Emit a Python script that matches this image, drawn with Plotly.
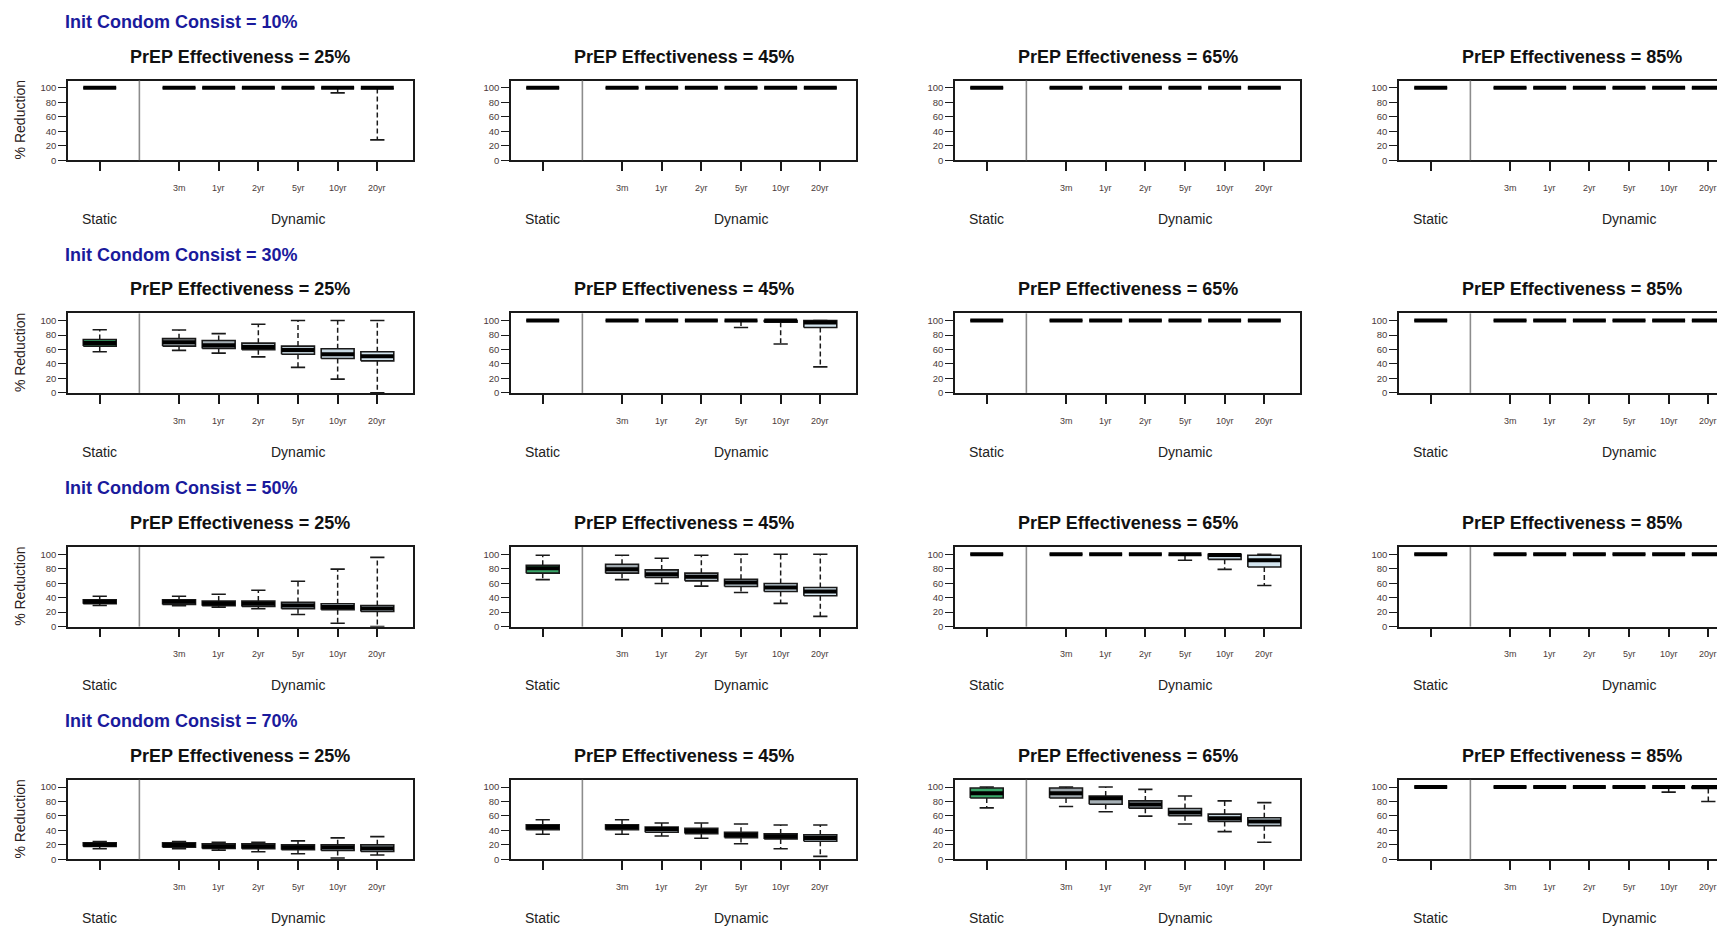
import plotly.graph_objects as go

# ---------------- data ----------------
categories = ["Static", "3m", "1yr", "2yr", "5yr", "10yr", "20yr"]
positions = [1, 3, 4, 5, 6, 7, 8]
dynamic_label_pos = 6
condom_levels = ["10%", "30%", "50%", "70%"]
prep_levels = ["25%", "45%", "65%", "85%"]
y_ticks = [0, 20, 40, 60, 80, 100]

# each box: (lower whisker, q1, median, q3, upper whisker) for Static, 3m, 1yr, 2yr, 5yr, 10yr, 20yr
c10_p25 = [(100, 100, 100, 100, 100), (100, 100, 100, 100, 100), (100, 100, 100, 100, 100),
           (100, 100, 100, 100, 100), (100, 100, 100, 100, 100), (93, 100, 100, 100, 100),
           (28, 99, 100, 100, 100)]
c10_p45 = [(100, 100, 100, 100, 100), (100, 100, 100, 100, 100), (100, 100, 100, 100, 100),
           (100, 100, 100, 100, 100), (100, 100, 100, 100, 100), (100, 100, 100, 100, 100),
           (100, 100, 100, 100, 100)]
c10_p65 = [(100, 100, 100, 100, 100), (100, 100, 100, 100, 100), (100, 100, 100, 100, 100),
           (100, 100, 100, 100, 100), (100, 100, 100, 100, 100), (100, 100, 100, 100, 100),
           (100, 100, 100, 100, 100)]
c10_p85 = [(100, 100, 100, 100, 100), (100, 100, 100, 100, 100), (100, 100, 100, 100, 100),
           (100, 100, 100, 100, 100), (100, 100, 100, 100, 100), (100, 100, 100, 100, 100),
           (100, 100, 100, 100, 100)]

c30_p25 = [(57, 64.7, 69, 73.8, 87.3), (58.8, 64.7, 70, 75, 87), (55, 61.5, 66, 72.4, 82),
           (49.8, 59.7, 63.3, 68.8, 95), (35.3, 53.4, 59.3, 64.7, 100), (19, 47.5, 53.4, 61, 100),
           (0, 44.3, 50.7, 57, 100)]
c30_p45 = [(100, 100, 100, 100, 100), (100, 100, 100, 100, 100), (100, 100, 100, 100, 100),
           (100, 100, 100, 100, 100), (90.4, 99.5, 100, 100, 100), (67.6, 97.7, 100, 100, 100),
           (36, 90.4, 97.3, 100, 100)]
c30_p65 = [(100, 100, 100, 100, 100), (100, 100, 100, 100, 100), (100, 100, 100, 100, 100),
           (100, 100, 100, 100, 100), (100, 100, 100, 100, 100), (100, 100, 100, 100, 100),
           (100, 100, 100, 100, 100)]
c30_p85 = [(100, 100, 100, 100, 100), (100, 100, 100, 100, 100), (100, 100, 100, 100, 100),
           (100, 100, 100, 100, 100), (100, 100, 100, 100, 100), (100, 100, 100, 100, 100),
           (100, 100, 100, 100, 100)]

c50_p25 = [(29.3, 31.6, 34.4, 37.2, 41.9), (28.8, 30.7, 34.4, 37.2, 41.9), (27, 28.8, 32, 35.3, 44.7),
           (24.7, 27.9, 31.6, 35.3, 50.2), (16.7, 24.7, 29.3, 33.5, 62.8), (4.7, 23.3, 27, 31.6, 79.5),
           (0, 20.9, 25, 29.3, 95.8)]
c50_p45 = [(65, 73.9, 80.7, 84.9, 98.6), (65, 73.9, 79.4, 86.2, 98.6), (59.6, 67.9, 72.5, 78.4, 94.5),
           (56, 63.3, 68.8, 73.9, 98.6), (47.2, 55.5, 61, 65.6, 100), (32.1, 48.6, 54.1, 59.6, 100),
           (14.2, 42.7, 48.6, 54.1, 100)]
c50_p65 = [(100, 100, 100, 100, 100), (100, 100, 100, 100, 100), (100, 100, 100, 100, 100),
           (100, 100, 100, 100, 100), (91.7, 99, 100, 100, 100), (79.2, 93, 99, 100, 100),
           (56.9, 82.4, 91.7, 98.6, 100)]
c50_p85 = [(100, 100, 100, 100, 100), (100, 100, 100, 100, 100), (100, 100, 100, 100, 100),
           (100, 100, 100, 100, 100), (100, 100, 100, 100, 100), (100, 100, 100, 100, 100),
           (100, 100, 100, 100, 100)]

c70_p25 = [(14.6, 17.8, 20.1, 22.8, 24.7), (14.6, 16.8, 20, 22.8, 24.7), (12.8, 15.1, 18.3, 21.5, 23.7),
           (10.5, 14.6, 18.3, 21.5, 23.7), (7.8, 13.2, 16.9, 20.1, 25.6), (1.8, 12.3, 16.4, 20.1, 29.7),
           (6, 11, 15.5, 20.1, 31.5)]
c70_p45 = [(34.7, 41.1, 44.7, 47.9, 54.8), (34.7, 41.1, 44.7, 47.9, 54.8), (32.4, 37.4, 42, 44.7, 50.2),
           (29.2, 35.6, 39.3, 42.9, 50.2), (21.5, 30.1, 33.8, 37.4, 48.9), (14.6, 28.3, 32, 35.2, 47.5),
           (4.1, 25.1, 29.7, 33.8, 47.5)]
c70_p65 = [(71.2, 84.9, 91.3, 98.6, 100), (73, 84.9, 91.3, 98.6, 100), (65.8, 76.3, 84.5, 87.7, 100),
           (59.8, 70.8, 75.8, 80.8, 96.8), (48.9, 60.3, 64.8, 70.3, 87.7), (38.4, 52.5, 57, 62.6, 80.8),
           (23.7, 46.6, 52.5, 57.5, 78.5)]
c70_p85 = [(100, 100, 100, 100, 100), (100, 100, 100, 100, 100), (100, 100, 100, 100, 100),
           (100, 100, 100, 100, 100), (100, 100, 100, 100, 100), (93, 99.5, 100, 100, 100),
           (80, 98, 100, 100, 100)]

panels = [
    [c10_p25, c10_p45, c10_p65, c10_p85],
    [c30_p25, c30_p45, c30_p65, c30_p85],
    [c50_p25, c50_p45, c50_p65, c50_p85],
    [c70_p25, c70_p45, c70_p65, c70_p85],
]

# ---------------- styling / layout ----------------
VIEW_W, VIEW_H = 1725, 931
OFF = 8                      # default page body margin
W, H = VIEW_W - OFF, VIEW_H - OFF
FONT = "Liberation Sans, Arial, sans-serif"
col_left = [68, 511, 955, 1399]      # in window pixels
row_top = [81, 315, 550, 784]
panel_w, panel_h = 345, 80
x_range = [0.2, 8.9]
y_range = [0, 110]
px_per_unit = panel_w / (x_range[1] - x_range[0])
box_half = 0.415
cap_half = 0.18
box_fills = ["#3aa86a", "#9ea7ad", "#a6b0b6", "#aeb9c0", "#bac8d0", "#c8d9e3", "#d3e5ef"]
INK = "#1a1a1a"


def px(xw):
    return (xw - OFF) / W


def py(yw):
    return 1 - (yw - OFF) / H


fig = go.Figure()
annotations = []
shapes = []
layout_axes = {}

for r in range(4):
    for c in range(4):
        k = r * 4 + c + 1
        xa = "x" if k == 1 else f"x{k}"
        ya = "y" if k == 1 else f"y{k}"
        left = col_left[c]
        right = min(left + panel_w, VIEW_W)
        top = row_top[r]
        bottom = top + panel_h
        xr_end = x_range[0] + (right - left) / px_per_unit
        layout_axes["xaxis" if k == 1 else f"xaxis{k}"] = dict(
            domain=[px(left), min(px(right), 1.0)], range=[x_range[0], xr_end], anchor=ya,
            showline=True, linecolor=INK, linewidth=1.6, mirror=True,
            ticks="outside", tickvals=positions, ticklen=9, tickwidth=1.6, tickcolor=INK,
            showticklabels=False, showgrid=False, zeroline=False, fixedrange=True)
        layout_axes["yaxis" if k == 1 else f"yaxis{k}"] = dict(
            domain=[py(bottom), py(top)], range=y_range, anchor=xa,
            showline=True, linecolor=INK, linewidth=1.6, mirror=(right - left) >= panel_w,
            ticks="outside", tickvals=y_ticks, ticklen=8, tickwidth=1.4, tickcolor=INK,
            tickfont=dict(family=FONT, size=9.5, color="#4a3a3a"),
            showgrid=False, zeroline=False, fixedrange=True)

        data = panels[r][c]
        wx, wy, cx, cy, mx, my = [], [], [], [], [], []
        for p, (lo, q1, med, q3, hi) in zip(positions, data):
            wx += [p, p, None, p, p, None]
            wy += [q3, hi, None, q1, lo, None]
            cx += [p - cap_half, p + cap_half, None, p - cap_half, p + cap_half, None]
            cy += [hi, hi, None, lo, lo, None]
            mx += [p - box_half, p + box_half, None]
            my += [med, med, None]
        # dashed whiskers
        fig.add_trace(go.Scatter(x=wx, y=wy, xaxis=xa, yaxis=ya, mode="lines",
                                 line=dict(color=INK, width=1.5, dash="5px,3px"),
                                 hoverinfo="skip", showlegend=False))
        # boxes
        for i, (p, (lo, q1, med, q3, hi)) in enumerate(zip(positions, data)):
            fig.add_trace(go.Scatter(
                x=[p - box_half, p + box_half, p + box_half, p - box_half, p - box_half],
                y=[q1, q1, q3, q3, q1], xaxis=xa, yaxis=ya, mode="lines",
                fill="toself", fillcolor=box_fills[i],
                line=dict(color=INK, width=1.6), hoverinfo="skip", showlegend=False))
        # staples
        fig.add_trace(go.Scatter(x=cx, y=cy, xaxis=xa, yaxis=ya, mode="lines",
                                 line=dict(color=INK, width=1.6),
                                 hoverinfo="skip", showlegend=False))
        # medians
        fig.add_trace(go.Scatter(x=mx, y=my, xaxis=xa, yaxis=ya, mode="lines",
                                 line=dict(color="#000000", width=4),
                                 hoverinfo="skip", showlegend=False))

        # divider between Static and Dynamic
        div_x = (positions[0] + positions[1]) / 2
        shapes.append(dict(type="line", xref=xa, yref=f"{ya} domain", x0=div_x, x1=div_x,
                           y0=0, y1=1, line=dict(color="#8c8c8c", width=1.6)))

        # category labels
        for p, lab in zip(positions[1:], categories[1:]):
            annotations.append(dict(text=lab, xref=xa, yref=f"{ya} domain", x=p, y=-28 / panel_h,
                                    showarrow=False, xanchor="center", yanchor="middle",
                                    font=dict(family=FONT, size=9, color="#4a3a3a")))
        annotations.append(dict(text=categories[0], xref=xa, yref=f"{ya} domain", x=positions[0],
                                y=-59 / panel_h, showarrow=False, xanchor="center", yanchor="middle",
                                font=dict(family=FONT, size=14, color="#222222")))
        annotations.append(dict(text="Dynamic", xref=xa, yref=f"{ya} domain", x=dynamic_label_pos,
                                y=-59 / panel_h, showarrow=False, xanchor="center", yanchor="middle",
                                font=dict(family=FONT, size=14, color="#222222")))

        # panel title
        annotations.append(dict(text=f"<b>PrEP Effectiveness = {prep_levels[c]}</b>", xref="paper",
                                yref="paper", x=px(left + panel_w / 2), y=py(top - 24),
                                showarrow=False, xanchor="center", yanchor="middle",
                                font=dict(family=FONT, size=18, color="#111111")))
        if c == 0:
            annotations.append(dict(text="% Reduction", xref="paper", yref="paper",
                                    x=px(20), y=py(top + panel_h / 2), textangle=-90,
                                    showarrow=False, xanchor="center", yanchor="middle",
                                    font=dict(family=FONT, size=14, color="#2a2020")))
    annotations.append(dict(text=f"<b>Init Condom Consist = {condom_levels[r]}</b>", xref="paper",
                            yref="paper", x=px(63), y=py(row_top[r] - 59),
                            showarrow=False, xanchor="left", yanchor="middle",
                            font=dict(family=FONT, size=18, color="#1a1a9c")))

fig.update_layout(width=W, height=H, margin=dict(l=0, r=0, t=0, b=0),
                  paper_bgcolor="white", plot_bgcolor="white",
                  annotations=annotations, shapes=shapes, showlegend=False,
                  **layout_axes)

fig.write_html("out.html")
